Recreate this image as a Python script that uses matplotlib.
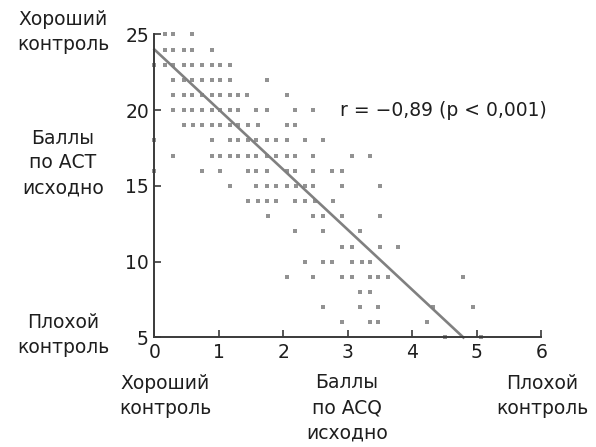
import matplotlib
matplotlib.use('Agg')
import matplotlib.pyplot as plt

plt.rcParams['font.family'] = ['DejaVu Sans']

# ACT score (y) levels, and the ACQ scores (x) of the patients at each level
act_levels = [25, 24, 23, 22, 21, 20, 19, 18, 17, 16, 15, 14, 13, 12, 11, 10, 9, 8, 7, 6, 5]
acq_rows = [
    [0.16, 0.29, 0.58],
    [0.16, 0.29, 0.45, 0.58, 0.89],
    [0.0, 0.16, 0.29, 0.45, 0.58, 0.73, 0.89, 1.02, 1.17],
    [0.29, 0.45, 0.58, 0.73, 0.89, 1.02, 1.17, 1.74],
    [0.29, 0.45, 0.58, 0.73, 0.89, 1.02, 1.17, 1.30, 1.43, 2.05],
    [0.29, 0.45, 0.58, 0.73, 0.89, 1.02, 1.17, 1.30, 1.58, 1.74, 2.18, 2.46],
    [0.45, 0.60, 0.73, 0.89, 1.02, 1.17, 1.30, 1.45, 1.61, 2.05, 2.18],
    [0.0, 0.89, 1.17, 1.30, 1.45, 1.58, 1.74, 1.89, 2.05, 2.33, 2.62],
    [0.29, 0.89, 1.02, 1.17, 1.30, 1.45, 1.58, 1.74, 1.89, 2.05, 2.18, 2.46, 3.06, 3.34],
    [0.0, 0.73, 1.02, 1.45, 1.58, 1.74, 2.05, 2.18, 2.46, 2.75, 2.90],
    [1.17, 1.58, 1.74, 1.89, 2.05, 2.20, 2.33, 2.46, 2.90, 3.50],
    [1.45, 1.61, 1.74, 1.89, 2.18, 2.33, 2.49, 2.77],
    [1.76, 2.46, 2.62, 2.90, 3.50],
    [2.18, 2.62, 3.19],
    [2.90, 3.06, 3.50, 3.78],
    [2.33, 2.62, 2.75, 3.06, 3.21, 3.34],
    [2.05, 2.46, 2.90, 3.06, 3.34, 3.47, 3.62, 4.79],
    [3.19, 3.34],
    [2.62, 3.19, 3.47, 4.32, 4.94],
    [2.90, 3.34, 3.47, 4.22],
    [4.50, 5.07],
]

# regression line end points
fit_x = [0.0, 4.79]
fit_y = [24.0, 5.0]

x_ticks = [0, 1, 2, 3, 4, 5, 6]
y_ticks = [5, 10, 15, 20, 25]

xs = []
ys = []
for act, row in zip(act_levels, acq_rows):
    for acq in row:
        xs.append(acq)
        ys.append(act)

fig = plt.figure(figsize=(5.96, 4.47), dpi=100)
ax = fig.add_axes([0.2592, 0.245, 0.6493, 0.678])
ax.set_xlim(0, 6)
ax.set_ylim(5, 25)

ax.plot(xs, ys, linestyle='none', marker='s', markersize=3.3,
        color='#929292', markeredgewidth=0, clip_on=False, zorder=2)
ax.plot(fit_x, fit_y, color='#808080', linewidth=1.9, zorder=3, clip_on=False)

for side in ['top', 'right']:
    ax.spines[side].set_visible(False)
for side in ['left', 'bottom']:
    ax.spines[side].set_color('#3a3a3a')
    ax.spines[side].set_linewidth(1.4)
    ax.spines[side].set_zorder(4)

ax.set_xticks(x_ticks)
ax.set_yticks(y_ticks)
ax.tick_params(direction='in', length=5, width=1.2, colors='#3a3a3a',
               labelcolor='#1e1e1e', labelsize=13.5, pad=4)

txt = dict(fontsize=13.5, color='#1e1e1e', ha='center', va='center', linespacing=1.4)
# y-axis side labels
fig.text(63 / 596, 1 - 32 / 447, 'Хороший\nконтроль', **txt)
fig.text(63 / 596, 1 - 163 / 447, 'Баллы\nпо АСТ\nисходно', **txt)
fig.text(63 / 596, 1 - 335 / 447, 'Плохой\nконтроль', **txt)
# x-axis side labels
fig.text(165 / 596, 1 - 396 / 447, 'Хороший\nконтроль', **txt)
fig.text(347 / 596, 1 - 408 / 447, 'Баллы\nпо ACQ\nисходно', **txt)
fig.text(542 / 596, 1 - 396 / 447, 'Плохой\nконтроль', **txt)

ax.text(2.88, 20.0, 'r = −0,89 (p < 0,001)', fontsize=13.5, color='#1e1e1e',
        ha='left', va='center')

fig.savefig('out.png', dpi=100)
